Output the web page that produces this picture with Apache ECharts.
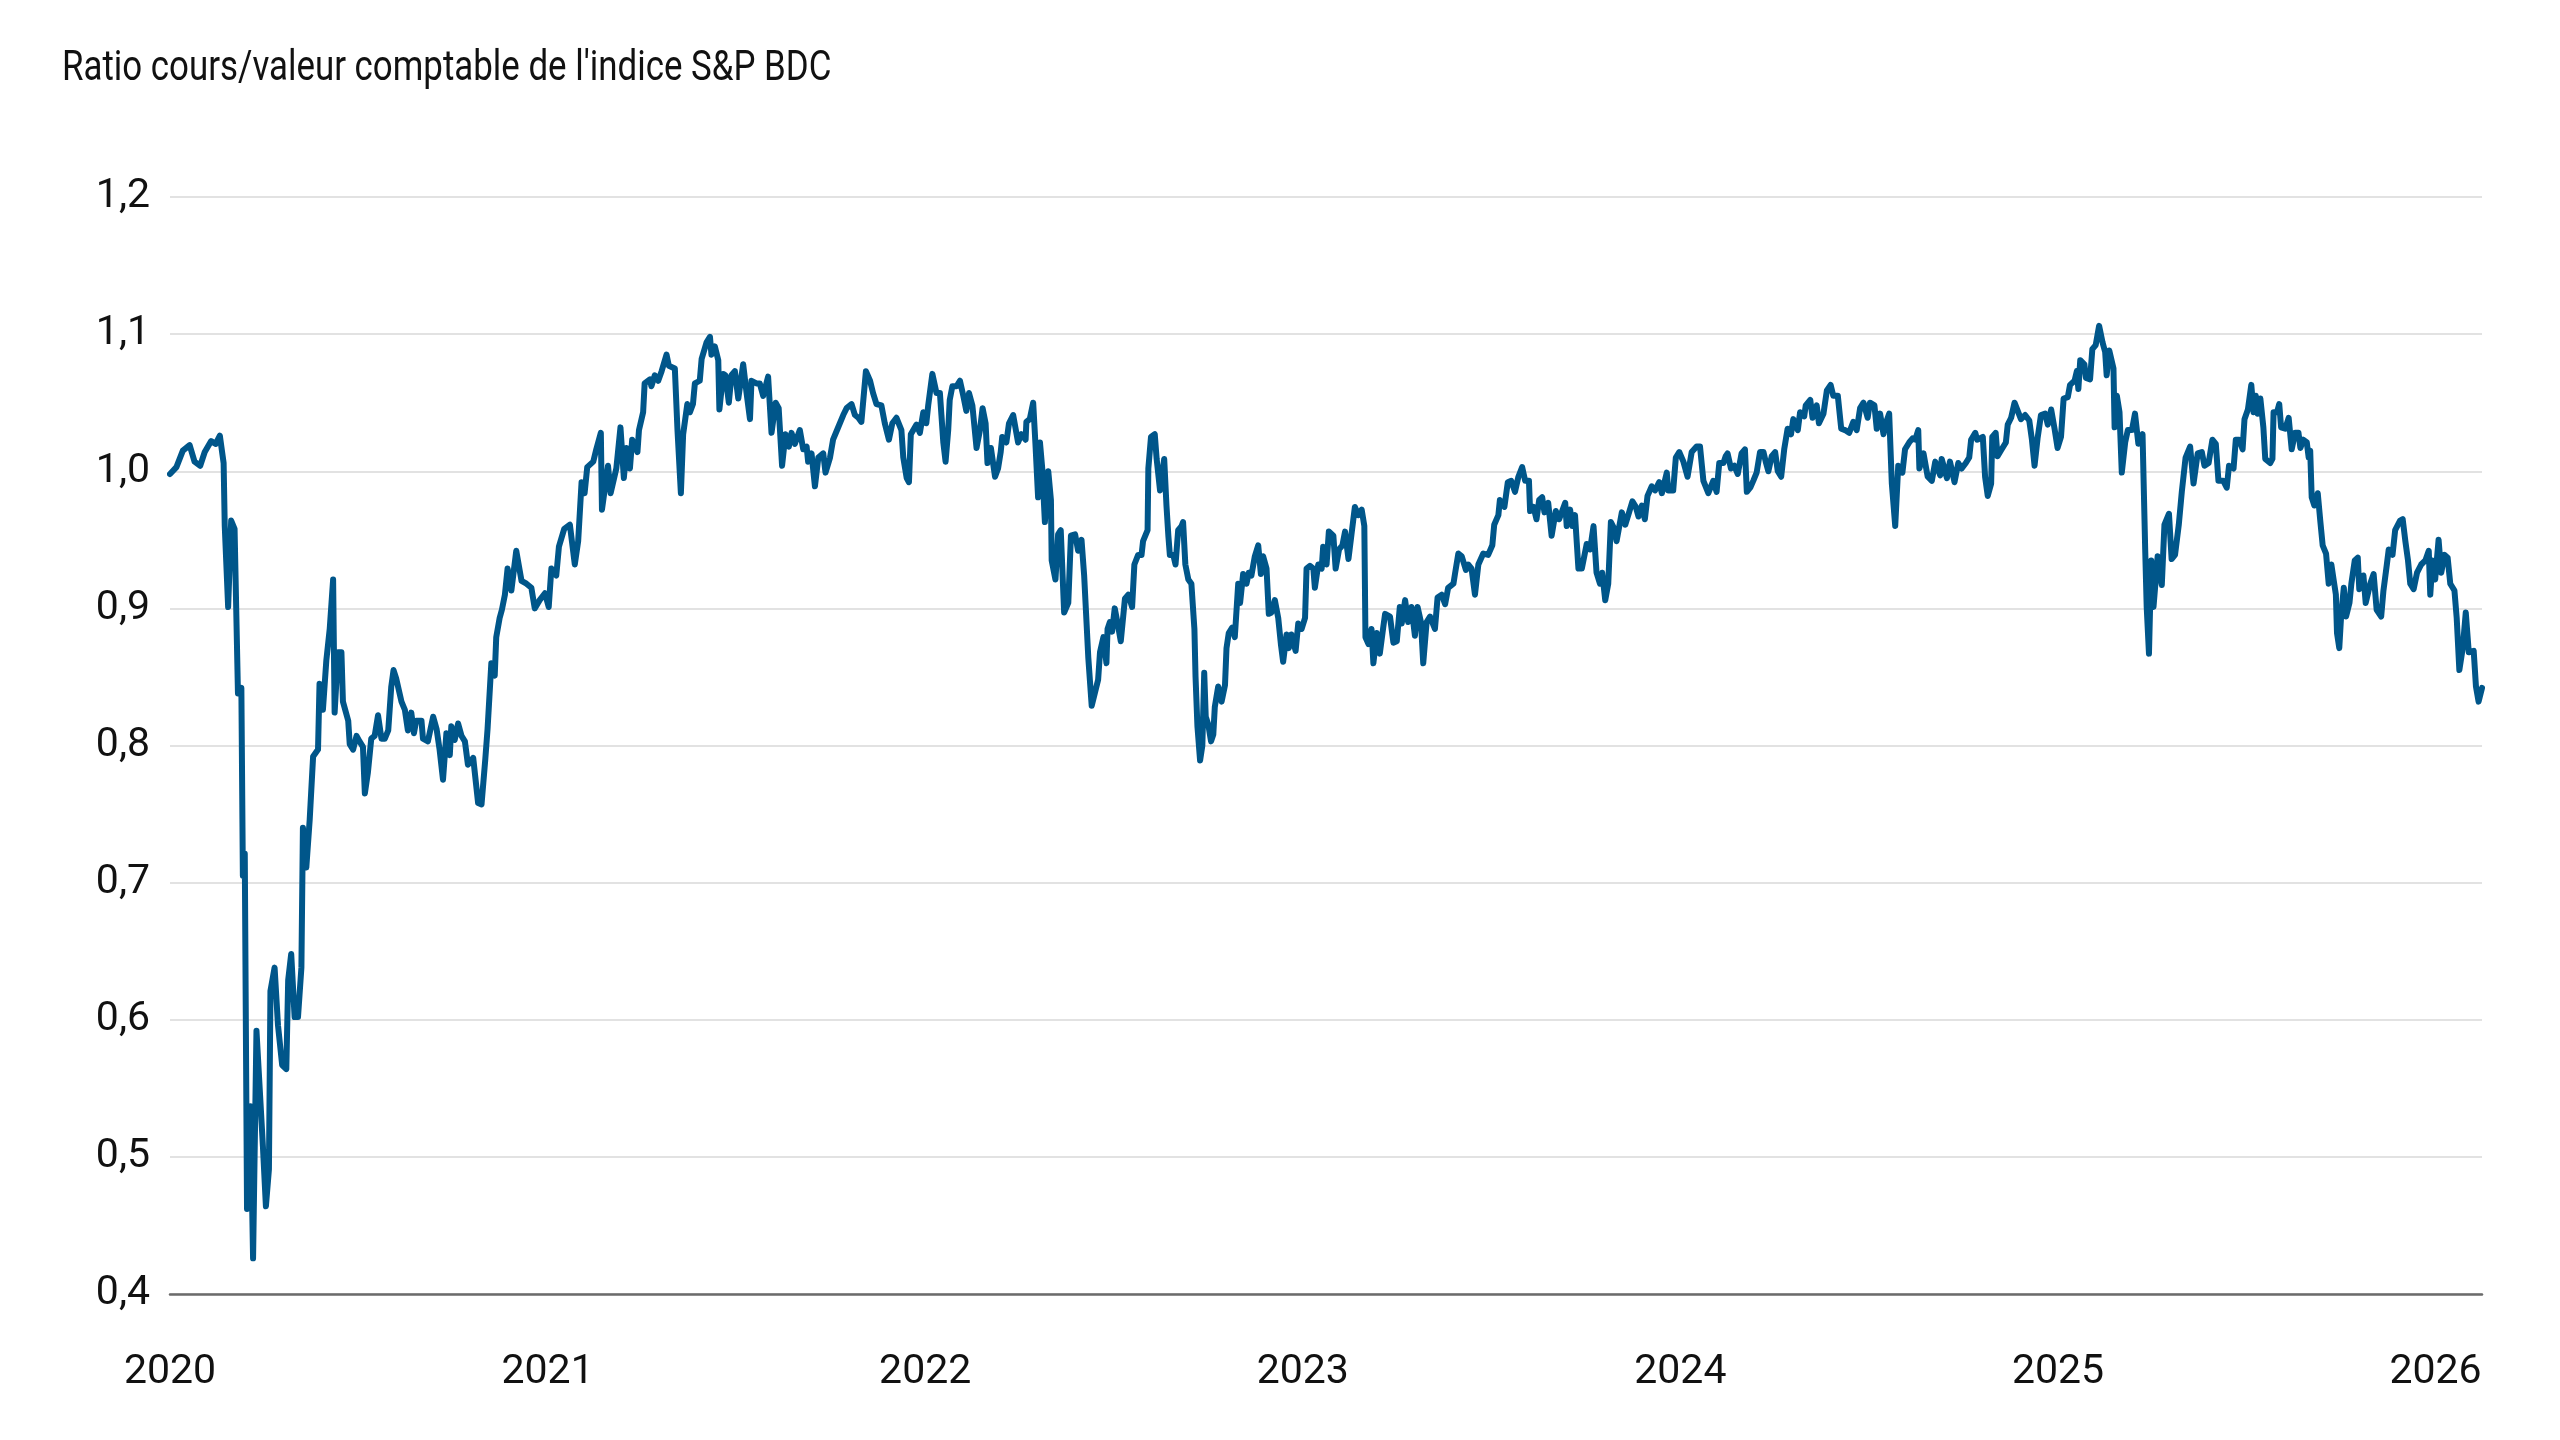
<!DOCTYPE html>
<html>
<head>
<meta charset="utf-8">
<script src="https://cdn.jsdelivr.net/npm/echarts@6/dist/echarts.min.js"></script>
<style>
html,body{margin:0;padding:0;background:#fff;}
#chart{width:2560px;height:1440px;}
</style>
</head>
<body>
<div id="chart"></div>
<script>
// Title and axis text
var chartTitle = "Ratio cours/valeur comptable de l'indice S&P BDC";
var baseYear = 2020;
var yTicks = [0.4, 0.5, 0.6, 0.7, 0.8, 0.9, 1.0, 1.1, 1.2];

// Time in years since 1 Jan 2020
var yearsSince2020 = [
0.000,0.017,0.034,0.052,0.065,0.080,0.092,0.109,0.121,0.132,0.142,0.145,0.154,0.162,0.171,0.180,0.189,0.193,0.198,0.204,
0.213,0.220,0.229,0.246,0.254,0.262,0.266,0.277,0.286,0.297,0.308,0.313,0.321,0.330,0.339,0.348,0.352,0.361,0.370,0.379,
0.392,0.396,0.405,0.414,0.423,0.432,0.436,0.445,0.454,0.458,0.472,0.476,0.485,0.494,0.502,0.511,0.516,0.524,0.533,0.542,
0.551,0.560,0.569,0.578,0.586,0.592,0.599,0.613,0.622,0.630,0.639,0.646,0.652,0.666,0.670,0.683,0.697,
0.706,0.714,0.723,0.732,0.741,0.745,0.754,0.763,0.772,0.781,0.789,0.803,0.816,0.825,0.835,0.841,0.851,0.860,0.864,0.873,
0.879,0.887,0.894,0.904,0.909,0.917,0.931,0.944,0.957,0.966,0.979,0.993,1.003,1.010,1.023,1.030,1.044,1.059,1.072,1.081,
1.090,1.098,1.105,1.121,1.129,1.141,1.144,1.160,1.167,1.182,1.193,1.202,1.209,1.218,1.224,1.238,1.242,1.253,1.257,1.271,
1.275,1.284,1.293,1.302,1.315,1.321,1.337,1.344,1.353,1.359,1.370,
1.377,1.385,1.390,1.403,1.408,1.421,1.430,1.434,1.443,1.452,1.455,1.465,1.471,1.480,1.487,1.496,1.505,1.518,1.527,1.536,
1.540,1.553,1.562,1.571,1.584,1.593,1.604,1.612,1.621,1.630,1.639,1.646,1.655,1.668,1.677,1.686,1.690,1.699,1.708,1.717,
1.730,1.736,1.748,1.756,1.768,1.783,1.792,1.805,1.814,1.823,1.831,1.843,1.854,1.862,1.871,1.884,1.893,1.904,1.913,1.924,
1.937,1.942,1.951,1.957,1.962,1.977,1.986,1.995,2.003,2.008,2.019,2.030,2.039,2.043,2.048,2.054,2.061,
2.065,2.072,2.083,2.092,2.101,2.109,2.116,2.125,2.136,2.145,2.152,2.160,2.165,2.174,2.185,2.193,2.200,2.204,2.215,2.222,
2.233,2.246,2.255,2.266,2.268,2.277,2.286,2.292,2.299,2.304,2.310,2.317,2.326,2.333,2.335,2.345,2.352,2.359,2.368,2.379,
2.386,2.397,2.405,2.414,2.421,2.432,2.441,2.450,2.458,2.463,2.472,2.480,2.483,2.489,2.495,2.502,2.511,2.518,2.529,2.538,
2.548,2.554,2.564,2.573,2.577,2.589,2.591,2.598,2.608,2.613,2.622,2.633,2.639,2.644,2.648,2.657,2.663,2.670,2.679,2.683,
2.689,2.697,2.705,2.713,2.716,2.721,2.728,2.734,2.739,2.743,2.750,
2.757,2.763,2.767,2.776,2.785,2.794,2.798,2.804,2.813,2.820,2.829,2.834,2.842,2.851,2.857,2.864,2.873,2.882,2.889,2.895,
2.904,2.910,2.917,2.926,2.935,2.942,2.948,2.957,2.963,2.970,2.981,2.988,2.997,3.006,3.010,3.019,3.028,3.032,3.041,3.050,
3.054,3.063,3.069,3.081,3.087,3.096,3.105,3.112,3.121,3.129,3.138,3.147,3.156,3.163,3.166,3.174,3.182,3.187,3.196,3.204,
3.213,3.218,3.231,3.240,3.249,3.257,3.262,3.271,3.279,3.288,3.297,3.304,3.313,3.319,3.328,3.337,3.350,3.357,3.368,3.377,
3.385,3.399,3.403,3.412,3.421,3.432,3.438,
3.447,3.456,3.465,3.478,3.491,3.502,3.507,3.518,3.522,3.534,3.543,3.552,3.562,3.571,3.581,3.589,3.599,3.602,3.611,3.619,
3.626,3.634,3.640,3.650,3.659,3.670,3.679,3.695,3.699,3.708,3.714,3.721,3.730,3.739,3.752,3.761,3.770,3.778,3.787,3.793,
3.801,3.809,3.816,3.825,3.831,3.845,3.854,3.862,3.873,3.882,3.889,3.898,3.906,3.913,3.924,3.933,3.944,3.951,3.964,3.968,
3.981,3.988,3.997,4.008,4.019,4.030,4.043,4.052,4.061,4.074,4.087,4.096,4.103,4.114,4.120,4.125,
4.134,4.143,4.152,4.162,4.171,4.176,4.185,4.193,4.202,4.211,4.220,4.226,4.233,4.242,4.251,4.258,4.267,4.275,4.284,4.293,
4.299,4.311,4.317,4.328,4.332,4.344,4.350,4.361,4.367,4.379,4.388,4.398,4.405,4.417,4.426,4.436,4.447,4.458,4.467,4.476,
4.485,4.496,4.502,4.514,4.520,4.529,4.538,4.544,4.553,4.560,4.569,4.577,4.588,4.595,4.606,4.615,4.622,4.630,4.633,4.644,
4.655,4.666,4.675,4.688,4.692,4.706,4.714,4.726,4.736,4.745,4.756,4.765,4.770,4.781,4.786,4.801,4.807,4.814,
4.823,4.826,4.835,4.840,4.851,4.862,4.867,4.876,4.885,4.895,4.902,4.913,4.924,4.931,4.938,4.946,4.955,4.966,4.973,4.982,
4.991,4.999,5.008,5.015,5.026,5.032,5.044,5.050,5.054,5.059,5.070,5.074,5.085,5.091,5.100,5.109,5.118,5.125,5.129,5.136,
5.147,5.150,5.156,5.163,5.169,5.178,5.185,5.196,5.204,5.213,5.224,5.231,5.235,5.241,5.247,5.253,5.264,5.275,5.282,5.294,
5.301,5.310,5.320,5.328,5.338,5.350,5.359,5.370,5.381,5.388,5.399,5.409,5.418,5.425,5.438,5.447,5.453,5.465,5.471,5.480,
5.489,5.494,5.503,
5.512,5.518,5.524,5.529,5.536,5.544,5.549,5.562,5.568,5.571,5.580,5.586,5.591,5.602,5.611,5.619,5.628,5.637,5.642,5.650,
5.659,5.664,5.668,5.672,5.679,5.688,5.695,5.701,5.710,5.717,5.724,5.730,5.736,5.739,5.745,5.750,5.757,5.763,5.772,5.777,
5.786,5.794,5.798,5.809,5.815,5.827,5.836,5.844,5.856,5.862,5.871,5.876,5.886,5.893,5.906,5.913,5.920,5.927,5.933,5.942,
5.951,5.962,5.973,5.982,5.986,5.992,5.999,6.008,6.015,6.024,6.032,6.039,6.050,6.056,6.063,6.072,6.080,6.088,6.101,6.107,
6.114,6.123
];

// Price / book ratio of the S&P BDC index
var priceToBook = [
0.998,1.003,1.015,1.019,1.007,1.004,1.014,1.022,1.020,1.026,1.006,0.960,0.901,0.964,0.958,0.838,0.842,0.705,0.721,0.462,
0.537,0.426,0.592,0.508,0.464,0.491,0.621,0.638,0.596,0.567,0.564,0.629,0.648,0.602,0.602,0.638,0.740,0.711,0.746,0.792,
0.797,0.845,0.826,0.862,0.885,0.921,0.824,0.868,0.868,0.832,0.818,0.801,0.797,0.807,0.803,0.799,0.765,0.780,0.805,0.807,
0.822,0.805,0.805,0.811,0.843,0.855,0.849,0.832,0.826,0.811,0.824,0.809,0.818,0.818,0.805,0.803,0.821,
0.812,0.797,0.775,0.809,0.793,0.814,0.804,0.816,0.807,0.803,0.786,0.791,0.758,0.757,0.790,0.812,0.860,0.851,0.879,0.893,
0.899,0.910,0.929,0.913,0.924,0.942,0.920,0.918,0.915,0.900,0.906,0.911,0.901,0.929,0.924,0.945,0.958,0.961,0.932,0.949,
0.992,0.984,1.003,1.007,1.016,1.028,0.972,1.004,0.984,1.002,1.032,0.995,1.017,1.002,1.023,1.014,1.030,1.043,1.064,1.067,
1.062,1.070,1.066,1.073,1.085,1.077,1.075,1.030,0.984,1.027,1.049,
1.043,1.049,1.064,1.066,1.082,1.094,1.098,1.085,1.091,1.081,1.045,1.071,1.070,1.050,1.070,1.073,1.053,1.078,1.057,1.038,
1.066,1.064,1.064,1.055,1.069,1.028,1.050,1.046,1.004,1.027,1.018,1.028,1.020,1.030,1.016,1.018,1.007,1.013,0.989,1.010,
1.013,0.999,1.010,1.023,1.031,1.041,1.046,1.049,1.041,1.039,1.036,1.073,1.066,1.057,1.049,1.048,1.035,1.023,1.035,1.039,
1.030,1.010,0.995,0.992,1.027,1.034,1.028,1.043,1.035,1.048,1.071,1.057,1.057,1.041,1.021,1.007,1.030,
1.052,1.062,1.062,1.066,1.055,1.044,1.057,1.048,1.017,1.030,1.046,1.035,1.006,1.017,0.996,1.002,1.014,1.025,1.021,1.035,
1.041,1.021,1.027,1.023,1.036,1.038,1.050,1.020,0.981,1.021,1.002,0.963,1.000,0.979,0.935,0.921,0.954,0.957,0.897,0.904,
0.953,0.954,0.942,0.950,0.924,0.864,0.829,0.839,0.848,0.868,0.879,0.860,0.885,0.890,0.883,0.900,0.887,0.876,0.907,0.910,
0.901,0.932,0.939,0.939,0.949,0.957,1.002,1.025,1.027,1.009,0.986,1.009,0.975,0.953,0.939,0.939,0.932,0.957,0.960,0.963,
0.932,0.921,0.918,0.885,0.850,0.814,0.789,0.800,0.853,0.821,0.815,
0.803,0.808,0.828,0.843,0.832,0.844,0.871,0.882,0.886,0.879,0.918,0.904,0.925,0.918,0.926,0.924,0.938,0.946,0.925,0.938,
0.929,0.896,0.897,0.906,0.893,0.874,0.861,0.881,0.871,0.881,0.869,0.889,0.885,0.893,0.929,0.931,0.929,0.915,0.932,0.929,
0.945,0.932,0.956,0.953,0.929,0.943,0.946,0.956,0.936,0.954,0.974,0.968,0.972,0.960,0.879,0.874,0.885,0.860,0.882,0.867,
0.886,0.896,0.894,0.875,0.876,0.901,0.889,0.906,0.890,0.901,0.880,0.901,0.890,0.860,0.890,0.894,0.885,0.908,0.910,0.903,
0.915,0.918,0.925,0.940,0.938,0.928,0.932,
0.929,0.910,0.932,0.940,0.939,0.946,0.961,0.968,0.979,0.974,0.992,0.993,0.985,0.996,1.003,0.993,0.993,0.971,0.974,0.965,
0.979,0.981,0.970,0.977,0.953,0.971,0.965,0.977,0.960,0.972,0.960,0.968,0.929,0.929,0.947,0.943,0.960,0.926,0.918,0.926,
0.906,0.918,0.963,0.958,0.949,0.970,0.961,0.968,0.978,0.974,0.967,0.975,0.965,0.982,0.989,0.986,0.992,0.984,0.999,0.986,
0.986,1.010,1.014,1.007,0.996,1.014,1.018,1.018,0.993,0.984,0.993,0.985,1.006,1.006,1.011,1.013,
1.002,1.004,0.998,1.013,1.016,0.985,0.988,0.993,0.999,1.014,1.014,1.007,1.000,1.011,1.014,1.000,0.996,1.016,1.031,1.027,
1.038,1.030,1.043,1.040,1.048,1.052,1.039,1.048,1.035,1.042,1.059,1.063,1.055,1.055,1.031,1.030,1.028,1.036,1.030,1.046,
1.050,1.039,1.050,1.048,1.031,1.042,1.027,1.035,1.042,0.991,0.960,1.004,0.999,1.016,1.021,1.024,1.023,1.030,1.002,1.013,
0.996,0.993,1.007,0.997,1.009,0.995,1.007,0.992,1.006,1.002,1.006,1.010,1.023,1.028,1.023,1.025,0.996,0.982,
0.991,1.025,1.028,1.011,1.016,1.021,1.034,1.039,1.050,1.043,1.038,1.041,1.037,1.023,1.004,1.024,1.041,1.042,1.034,1.045,
1.031,1.017,1.025,1.053,1.054,1.063,1.066,1.073,1.060,1.081,1.078,1.068,1.067,1.089,1.092,1.106,1.094,1.087,1.070,1.088,
1.075,1.032,1.055,1.043,0.999,1.021,1.030,1.030,1.042,1.020,1.027,0.943,0.901,0.867,0.935,0.901,0.938,0.917,0.961,0.969,
0.936,0.939,0.961,0.985,1.010,1.018,0.991,1.013,1.014,1.004,1.006,1.023,1.020,0.993,0.993,0.988,1.004,1.002,1.023,1.023,
1.016,1.038,1.045,
1.063,1.043,1.055,1.042,1.053,1.032,1.009,1.006,1.009,1.043,1.043,1.049,1.032,1.031,1.039,1.016,1.028,1.028,1.017,1.023,
1.021,1.010,1.015,0.981,0.975,0.984,0.963,0.946,0.940,0.918,0.932,0.921,0.910,0.882,0.871,0.895,0.915,0.894,0.904,0.918,
0.935,0.937,0.914,0.924,0.904,0.918,0.925,0.899,0.894,0.913,0.932,0.943,0.939,0.957,0.964,0.965,0.949,0.935,0.918,0.914,
0.926,0.932,0.935,0.942,0.910,0.935,0.921,0.950,0.926,0.939,0.937,0.918,0.913,0.893,0.855,0.871,0.897,0.868,0.869,0.843,
0.832,0.842
];

var seriesData = yearsSince2020.map(function (t, i) { return [t, priceToBook[i]]; });

var fontFamily = "Roboto, 'Noto Sans', sans-serif";

var chart = echarts.init(document.getElementById('chart'), null, { renderer: 'canvas' });
chart.setOption({
  animation: false,
  backgroundColor: '#ffffff',
  textStyle: { fontFamily: fontFamily },
  graphic: [{
    type: 'text',
    x: 62,
    y: 48,
    scaleX: 0.83,
    scaleY: 1,
    style: {
      x: 0,
      y: 0,
      text: chartTitle,
      fontSize: 42,
      fontFamily: fontFamily,
      fontWeight: 'normal',
      fill: '#111111',
      align: 'left',
      verticalAlign: 'top'
    }
  }],
  grid: { left: 170, right: 78, top: 197, bottom: 146, containLabel: false },
  xAxis: {
    type: 'value',
    min: 0,
    max: yearsSince2020[yearsSince2020.length - 1],
    interval: 1,
    axisLine: { show: true, lineStyle: { color: '#6b6b6b', width: 2.5 } },
    axisTick: { show: false },
    splitLine: { show: false },
    axisLabel: {
      margin: 58,
      fontSize: 41,
      color: '#111111',
      fontFamily: fontFamily,
      showMaxLabel: false,
      formatter: function (v) {
        return Math.abs(v - Math.round(v)) < 1e-6 ? String(baseYear + Math.round(v)) : '';
      }
    }
  },
  yAxis: {
    type: 'value',
    min: yTicks[0],
    max: yTicks[yTicks.length - 1],
    interval: 0.1,
    axisLine: { show: false },
    axisTick: { show: false },
    splitLine: { show: true, lineStyle: { color: '#d9d9d9', width: 1.5 } },
    axisLabel: {
      margin: 20,
      fontSize: 41,
      color: '#111111',
      fontFamily: fontFamily,
      formatter: function (v) { return v.toFixed(1).replace('.', ','); }
    }
  },
  series: [{
    type: 'line',
    data: seriesData,
    showSymbol: false,
    symbol: 'none',
    lineStyle: { color: '#00568a', width: 6, join: 'round', cap: 'round' },
    itemStyle: { color: '#00568a' }
  }]
});
</script>
</body>
</html>
